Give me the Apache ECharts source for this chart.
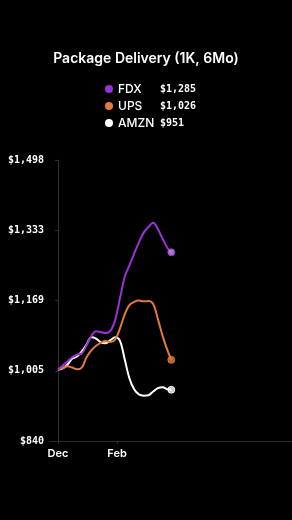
<!DOCTYPE html>
<html>
<head>
<meta charset="utf-8">
<script src="https://cdn.jsdelivr.net/npm/echarts@6/dist/echarts.min.js"></script>
<style>
  html, body { margin: 0; padding: 0; background: #000; }
  #chart { width: 292px; height: 520px; }
</style>
</head>
<body>
<div id="chart"></div>
<script>
// days since Dec 1
var days = [0, 5, 10, 15, 20, 25, 30, 35, 40, 45, 50, 55, 60, 65, 70, 75, 80, 85, 90, 95, 100, 105, 110, 115, 119];
var fdx = [1007, 1017, 1026, 1036, 1042, 1045, 1064, 1086, 1097, 1095, 1093, 1098, 1123, 1173, 1224, 1251, 1279, 1305, 1328, 1341, 1351, 1336, 1313, 1292, 1282];
var ups = [1007, 1011, 1015, 1012, 1008, 1012, 1036, 1052, 1063, 1070, 1074, 1072, 1077, 1103, 1136, 1158, 1166, 1169, 1167, 1168, 1161, 1125, 1085, 1052, 1030];
var amzn = [1007, 1010, 1019, 1033, 1038, 1050, 1066, 1083, 1080, 1071, 1069, 1076, 1083, 1075, 1032, 987, 961, 949, 946, 947, 956, 964, 966, 961, 960];

var names = ['FDX', 'UPS', 'AMZN'];
var lastLabels = ['$1,285', '$1,026', '$951'];
var colors = ['#9b32d8', '#e27a3c', '#ffffff'];
var dotFill = ['#c98cf0', '#e27a3c', '#ffffff'];

var yTicks = [840, 1004.5, 1169, 1333.5, 1498];
var yTickLabels = ['$840', '$1,005', '$1,169', '$1,333', '$1,498'];
var xTicks = [0, 62];
var xTickLabels = ['Dec', 'Feb'];

(function() {
  var chart = echarts.init(document.getElementById('chart'), null, { renderer: 'canvas' });
  var allSeries = [fdx, ups, amzn];

  function pairs(vals) {
    return vals.map(function(v, i) { return [days[i], v]; });
  }

  var series = [];
  allSeries.forEach(function(vals, i) {
    series.push({
      name: names[i],
      type: 'line',
      data: pairs(vals),
      smooth: 0.35,
      showSymbol: false,
      lineStyle: { width: 2, color: colors[i] },
      itemStyle: { color: colors[i] },
      z: 3 - i
    });
  });
  allSeries.forEach(function(vals, i) {
    var last = vals.length - 1;
    series.push({
      type: 'scatter',
      data: [[days[last], vals[last]]],
      symbolSize: 7,
      itemStyle: { color: dotFill[i], borderColor: colors[i], borderWidth: 1 },
      z: 5,
      silent: true
    });
  });

  chart.setOption({
    animation: false,
    backgroundColor: '#000',
    title: {
      text: 'Package Delivery (1K, 6Mo)',
      left: 'center',
      top: 47,
      textStyle: { color: '#fff', fontSize: 14, fontWeight: 600, fontFamily: 'Inter' }
    },
    legend: {
      data: names,
      orient: 'vertical',
      left: 100,
      top: 78,
      itemGap: 5,
      itemWidth: 8,
      itemHeight: 8,
      icon: 'circle',
      formatter: function(name) {
        return '{n|' + name + '}{v|' + lastLabels[names.indexOf(name)] + '}';
      },
      textStyle: {
        color: '#fff',
        rich: {
          n: { width: 42, fontSize: 12, color: '#fff', fontFamily: 'Inter', fontWeight: 500 },
          v: { fontSize: 10, color: '#fff', fontFamily: 'DejaVu Sans Mono', fontWeight: 'bold' }
        }
      }
    },
    grid: { left: 50, right: 0, top: 160, bottom: 79 },
    xAxis: {
      type: 'value',
      min: -8.4,
      max: 245.8,
      splitLine: { show: false },
      axisLine: { lineStyle: { color: '#2e2e2e', width: 1 } },
      axisTick: { show: true, customValues: xTicks, length: 3, lineStyle: { color: '#2e2e2e' } },
      axisLabel: {
        customValues: xTicks,
        color: '#fff',
        fontSize: 11,
        fontWeight: 600,
        fontFamily: 'Inter',
        margin: 7,
        formatter: function(v) { return xTickLabels[xTicks.indexOf(v)]; }
      }
    },
    yAxis: {
      type: 'value',
      min: 840,
      max: 1498,
      splitLine: { show: false },
      axisLine: { show: true, lineStyle: { color: '#2e2e2e', width: 1 } },
      axisTick: { show: true, customValues: yTicks, length: 3, lineStyle: { color: '#2e2e2e' } },
      axisLabel: {
        customValues: yTicks,
        color: '#fff',
        fontSize: 10,
        fontWeight: 'bold',
        fontFamily: 'DejaVu Sans Mono',
        margin: 6,
        formatter: function(v) { return yTickLabels[yTicks.indexOf(v)]; }
      }
    },
    series: series
  });
  window.addEventListener('resize', function() { chart.resize(); });
})();
</script>
</body>
</html>
